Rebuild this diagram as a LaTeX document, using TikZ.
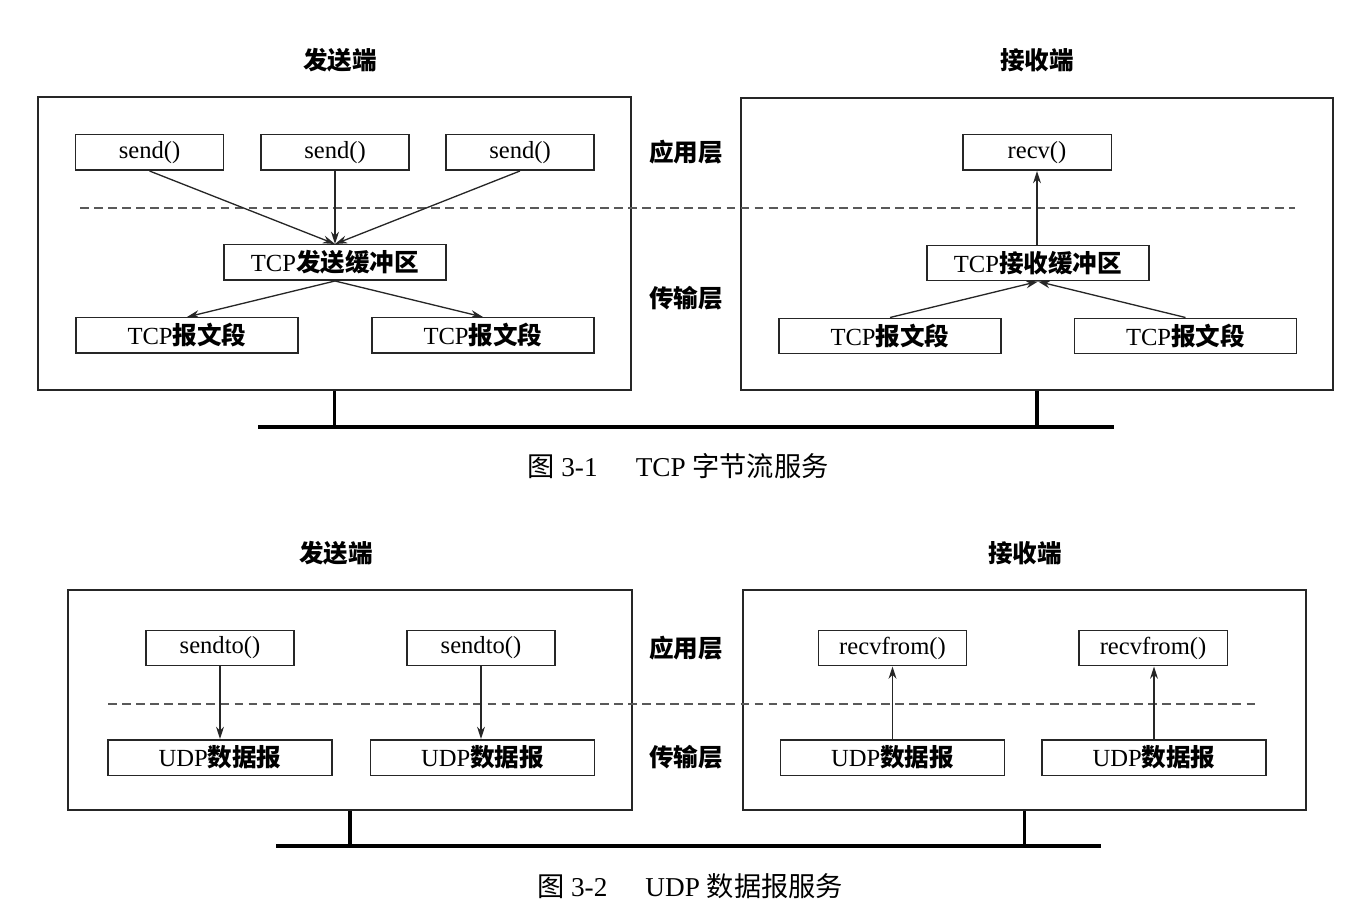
\documentclass[tikz,border=0pt]{standalone}
\usepackage{fontspec}
\setmainfont{Liberation Serif}
\newfontfamily\cjk{Noto Sans CJK SC}
\usetikzlibrary{arrows.meta}
\newcommand{\zh}[1]{{\cjk\bfseries #1}}
\newcommand{\zhr}[1]{{\cjk #1}}
\begin{document}
\begin{tikzpicture}[x=0.02cm,y=-0.02cm,
  txt/.style={font=\fontsize{14}{16}\selectfont},
  framebox/.style={draw=black!85, line width=0.9pt, inner sep=0pt},
  fbox/.style={draw=black!85, line width=0.85pt, inner sep=0pt, txt},
  narrow/.style={fbox, minimum width=2.97cm, minimum height=0.71cm},
  wide/.style={fbox, minimum width=4.44cm, minimum height=0.71cm},
  udpbox/.style={fbox, minimum width=4.48cm, minimum height=0.71cm},
  head/.style={font=\fontsize{14}{16}\selectfont\cjk\bfseries},
  layer/.style={font=\fontsize{14}{16}\selectfont\cjk\bfseries},
  captxt/.style={font=\fontsize{15.5}{17}\selectfont},
  arr/.style={draw=black!85, line width=0.75pt, -{Stealth[length=7pt,width=4.5pt]}},
  sepline/.style={draw=black!65, line width=1pt, dash pattern=on 5pt off 3pt},
  bus/.style={draw=black, line width=2pt},
  drop/.style={draw=black, line width=1.8pt}]
\useasboundingbox (0,0) rectangle (1366,905);

% ---------- TCP byte stream service ----------
\node[head] (tsend) at (340,60) {发送端};
\node[head] (trecv) at (1037,60) {接收端};

\node[framebox, minimum width=11.86cm, minimum height=5.86cm] (tfl) at (334.5,243.5) {};
\node[framebox, minimum width=11.84cm, minimum height=5.84cm] (tfr) at (1037,244) {};

\coordinate (tdashA) at (80,208);
\coordinate (tdashB) at (1295,208);
\draw[sepline] (tdashA) -- (tdashB);

\node[layer] (tapp) at (686,152) {应用层};
\node[layer] (ttra) at (686,298) {传输层};

\node[narrow] (s1) at (149.5,152.5) {send()};
\node[narrow] (s2) at (335,152.5) {send()};
\node[narrow] (s3) at (520,152.5) {send()};
\node[wide] (sbuf) at (335,262.5) {TCP\zh{发送缓冲区}};
\node[wide] (sseg1) at (187,335.5) {TCP\zh{报文段}};
\node[wide] (sseg2) at (483,335.5) {TCP\zh{报文段}};

\draw[arr] (s1.south) -- (sbuf.north);
\draw[arr] (s2.south) -- (sbuf.north);
\draw[arr] (s3.south) -- (sbuf.north);
\draw[arr] (sbuf.south) -- (sseg1.north);
\draw[arr] (sbuf.south) -- (sseg2.north);

\node[narrow] (rv) at (1037,152.5) {recv()};
\node[wide] (rbuf) at (1038,263) {TCP\zh{接收缓冲区}};
\node[wide] (rseg1) at (890,336) {TCP\zh{报文段}};
\node[wide] (rseg2) at (1185.5,336) {TCP\zh{报文段}};

\draw[arr] (rbuf.north -| rv.south) -- (rv.south);
\draw[arr] (rseg1.north) -- (rbuf.south);
\draw[arr] (rseg2.north) -- (rbuf.south);

\coordinate (tbusA) at (258,427);
\coordinate (tbusB) at (1114,427);
\draw[bus] (tbusA) -- (tbusB);
\draw[drop] (tfl.south) -- (tfl.south |- tbusA);
\draw[drop] (tfr.south) -- (tfr.south |- tbusA);

\node[captxt] (tcap) at (678,466) {\zhr{图} 3-1\hspace{1.4em}TCP \zhr{字节流服务}};

% ---------- UDP datagram service ----------
\node[head] (usend) at (336,553) {发送端};
\node[head] (urecv) at (1025,553) {接收端};

\node[framebox, minimum width=11.28cm, minimum height=4.4cm] (ufl) at (350,700) {};
\node[framebox, minimum width=11.26cm, minimum height=4.4cm] (ufr) at (1024.5,700) {};

\coordinate (udashA) at (108,704);
\coordinate (udashB) at (1260,704);
\draw[sepline] (udashA) -- (udashB);

\node[layer] (uapp) at (686,648) {应用层};
\node[layer] (utra) at (686,757) {传输层};

\node[narrow] (st1) at (220,648) {sendto()};
\node[narrow] (st2) at (481,648) {sendto()};
\node[udpbox] (ud1) at (220,757.5) {UDP\zh{数据报}};
\node[udpbox] (ud2) at (482.5,757.5) {UDP\zh{数据报}};
\draw[arr] (st1.south) -- (st1.south |- ud1.north);
\draw[arr] (st2.south) -- (st2.south |- ud2.north);

\node[narrow] (rf1) at (892.5,648) {recvfrom()};
\node[narrow] (rf2) at (1153,648) {recvfrom()};
\node[udpbox] (ur1) at (892.5,757.5) {UDP\zh{数据报}};
\node[udpbox] (ur2) at (1154,757.5) {UDP\zh{数据报}};
\draw[arr] (ur1.north) -- (ur1.north |- rf1.south);
\draw[arr] (ur2.north) -- (ur2.north |- rf2.south);

\coordinate (ubusA) at (276,846);
\coordinate (ubusB) at (1101,846);
\draw[bus] (ubusA) -- (ubusB);
\draw[drop] (ufl.south) -- (ufl.south |- ubusA);
\draw[drop] (ufr.south) -- (ufr.south |- ubusA);

\node[captxt] (ucap) at (690,886) {\zhr{图} 3-2\hspace{1.4em}UDP \zhr{数据报服务}};
\end{tikzpicture}
\end{document}
